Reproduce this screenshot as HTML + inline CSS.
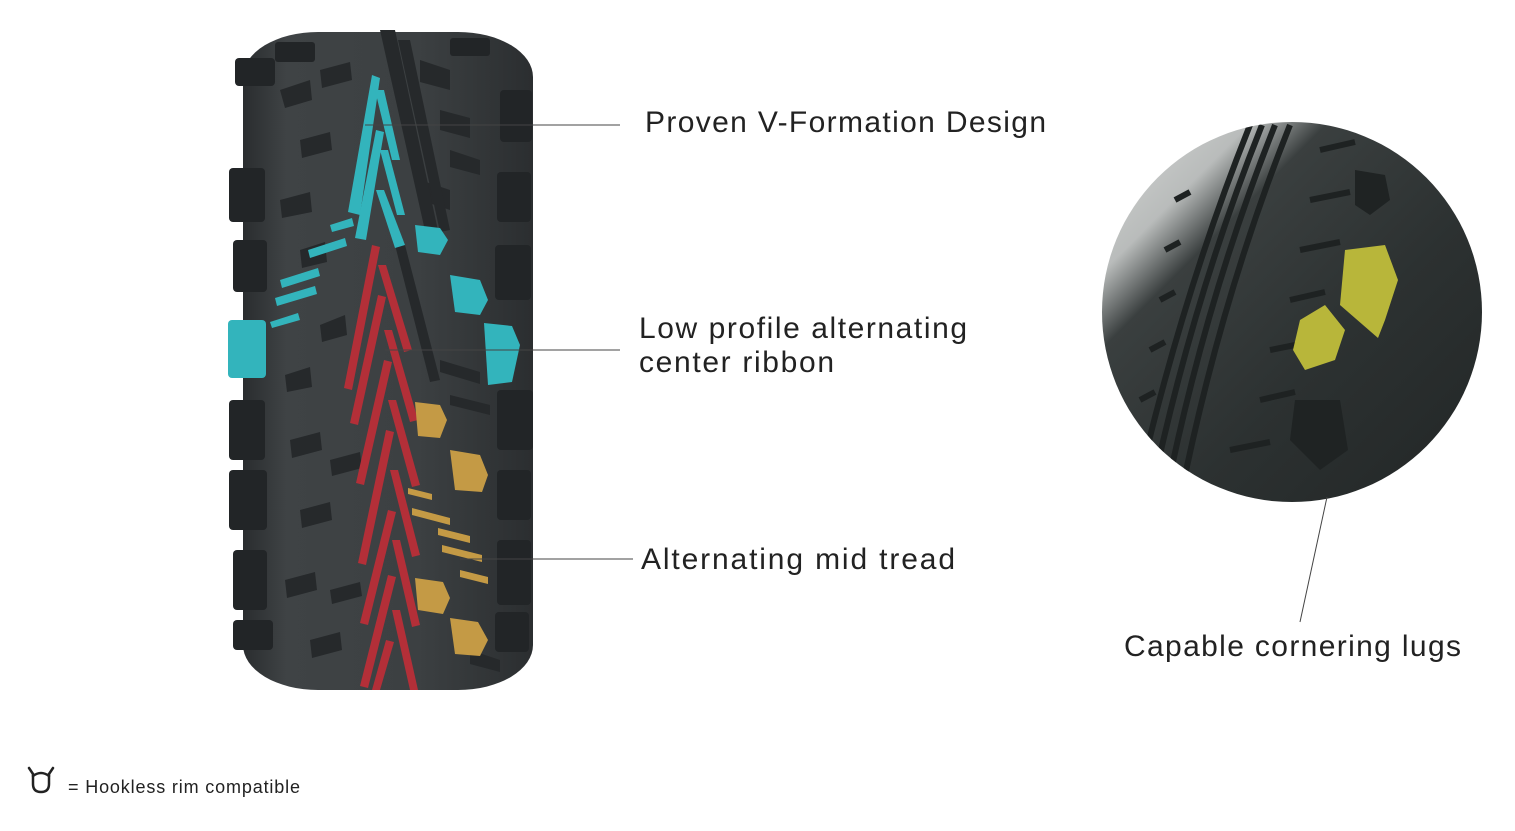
<!DOCTYPE html>
<html><head><meta charset="utf-8"><style>
html,body{margin:0;padding:0;background:#fff;}
svg{display:block}
text{font-family:"Liberation Sans",sans-serif;fill:#222}
</style></head><body>
<svg width="1515" height="831" viewBox="0 0 1515 831" xmlns="http://www.w3.org/2000/svg">
<defs>
<linearGradient id="tg" x1="0" x2="1" y1="0" y2="0">
<stop offset="0" stop-color="#2a2d2f"/><stop offset="0.15" stop-color="#3f4345"/><stop offset="0.6" stop-color="#3c4042"/><stop offset="1" stop-color="#2b2e30"/>
</linearGradient>
<linearGradient id="cg" x1="0" x2="1" y1="0" y2="1">
<stop offset="0" stop-color="#d8d9d8"/><stop offset="0.2" stop-color="#b9bcbb"/><stop offset="0.3" stop-color="#3a3f3f"/><stop offset="0.6" stop-color="#2c3131"/><stop offset="1" stop-color="#222626"/>
</linearGradient>
<clipPath id="cc"><circle cx="1292" cy="312" r="190"/></clipPath>
</defs>

<rect x="243" y="32" width="290" height="658" rx="75" ry="45" fill="url(#tg)"/>
<g fill="#222527">
<rect x="235" y="58" width="40" height="28" rx="4"/>
<rect x="229" y="168" width="36" height="54" rx="4"/>
<rect x="233" y="240" width="34" height="52" rx="4"/>
<rect x="229" y="400" width="36" height="60" rx="4"/>
<rect x="229" y="470" width="38" height="60" rx="4"/>
<rect x="233" y="550" width="34" height="60" rx="4"/>
<rect x="233" y="620" width="40" height="30" rx="4"/>
<rect x="500" y="90" width="32" height="52" rx="4"/>
<rect x="497" y="172" width="34" height="50" rx="4"/>
<rect x="495" y="245" width="36" height="55" rx="4"/>
<rect x="497" y="390" width="36" height="60" rx="4"/>
<rect x="497" y="470" width="34" height="50" rx="4"/>
<rect x="497" y="540" width="34" height="65" rx="4"/>
<rect x="495" y="612" width="34" height="40" rx="4"/>
<rect x="275" y="42" width="40" height="20" rx="3"/>
<rect x="450" y="38" width="40" height="18" rx="3"/>
</g>
<g fill="#26292b">
<polygon points="280,90 310,80 312,100 285,108"/>
<polygon points="320,70 350,62 352,80 322,88"/>
<polygon points="300,140 330,132 332,150 302,158"/>
<polygon points="280,200 310,192 312,212 282,218"/>
<polygon points="300,250 325,242 327,262 302,268"/>
<polygon points="320,325 345,315 347,335 322,342"/>
<polygon points="285,375 310,367 312,387 287,392"/>
<polygon points="290,440 320,432 322,450 292,458"/>
<polygon points="330,460 360,452 362,468 332,476"/>
<polygon points="300,510 330,502 332,520 302,528"/>
<polygon points="285,580 315,572 317,590 287,598"/>
<polygon points="330,590 360,582 362,596 332,604"/>
<polygon points="310,640 340,632 342,650 312,658"/>
<polygon points="420,60 450,70 450,90 420,82"/>
<polygon points="440,110 470,118 470,138 440,130"/>
<polygon points="420,180 450,190 450,210 420,200"/>
<polygon points="450,150 480,160 480,175 450,167"/>
<polygon points="440,360 480,372 480,384 440,372"/>
<polygon points="450,395 490,405 490,415 450,405"/>
<polygon points="470,650 500,660 500,672 470,664"/>
<polygon points="380,30 395,30 440,240 428,244"/>
<polygon points="398,40 410,40 450,230 440,232"/>
<polygon points="395,245 405,245 440,380 430,382"/>
</g>
<g fill="#33b4bc">
<polygon points="372,75 380,78 360,215 348,212"/>
<polygon points="375,90 384,90 400,160 392,160"/>
<polygon points="376,130 384,132 366,240 355,238"/>
<polygon points="380,150 388,150 405,215 397,215"/>
<polygon points="376,190 384,190 405,245 395,248"/>
<polygon points="330,225 352,218 354,226 332,232"/>
<polygon points="308,250 345,238 347,246 310,258"/>
<polygon points="280,280 318,268 320,276 282,288"/>
<polygon points="275,298 315,286 317,294 277,306"/>
<polygon points="270,322 298,313 300,320 272,328"/>
<polygon points="415,225 440,228 448,240 440,255 418,252"/>
<polygon points="450,275 480,280 488,300 480,315 455,312"/>
<polygon points="484,323 512,326 520,345 512,382 488,385"/>
<rect x="228" y="320" width="38" height="58" rx="4"/>
</g>
<g fill="#b32f38">
<polygon points="372,245 380,247 352,390 344,388"/>
<polygon points="378,265 386,265 412,350 404,352"/>
<polygon points="378,295 386,297 358,425 350,423"/>
<polygon points="384,330 392,330 418,420 410,422"/>
<polygon points="384,360 392,362 364,485 356,483"/>
<polygon points="388,400 396,400 420,485 412,487"/>
<polygon points="386,430 394,432 366,565 358,563"/>
<polygon points="390,470 398,470 420,555 412,557"/>
<polygon points="388,510 396,512 368,625 360,623"/>
<polygon points="392,540 400,540 420,625 412,627"/>
<polygon points="388,575 396,577 368,688 360,686"/>
<polygon points="392,610 400,610 418,690 410,690"/>
<polygon points="386,640 394,642 380,690 372,690"/>
</g>
<g fill="#c49a45">
<polygon points="415,402 440,405 447,420 440,438 418,436"/>
<polygon points="450,450 480,455 488,475 482,492 455,490"/>
<polygon points="408,488 432,494 432,500 408,494"/>
<polygon points="412,508 450,518 450,525 412,515"/>
<polygon points="438,528 470,536 470,543 438,535"/>
<polygon points="442,545 482,555 482,562 442,552"/>
<polygon points="460,570 488,577 488,584 460,577"/>
<polygon points="415,578 443,582 450,598 443,614 418,610"/>
<polygon points="450,618 478,622 488,640 480,656 455,654"/>
</g>

<g clip-path="url(#cc)">
<rect x="1100" y="120" width="385" height="385" fill="url(#cg)"/>
<g stroke="#1e2222" stroke-width="6" fill="none">
<path d="M1250,125 Q1180,300 1135,500"/>
<path d="M1262,125 Q1192,300 1150,500"/>
<path d="M1275,125 Q1205,300 1165,500"/>
<path d="M1290,125 Q1220,300 1180,500"/>
<path d="M1175,200 l15,-8 M1165,250 l15,-8 M1160,300 l15,-8 M1150,350 l15,-8 M1140,400 l15,-8"/>
<path d="M1320,150 l35,-8 M1310,200 l40,-8 M1300,250 l40,-8 M1290,300 l35,-8 M1270,350 l40,-8 M1260,400 l35,-8 M1230,450 l40,-8"/>
</g>
<g fill="#1f2323">
<polygon points="1355,170 1385,175 1390,200 1370,215 1355,205"/>
<polygon points="1295,400 1340,400 1348,450 1320,470 1290,440"/>
</g>
<polygon points="1345,250 1385,245 1398,280 1385,320 1378,338 1340,305" fill="#b8b63a"/>
<polygon points="1300,320 1325,305 1345,330 1335,360 1305,370 1293,350" fill="#b8b63a"/>
</g>

<g stroke="#444" stroke-width="1">
<line x1="365" y1="125" x2="620" y2="125"/>
<line x1="385" y1="350" x2="620" y2="350"/>
<line x1="460" y1="559" x2="633" y2="559"/>
<line x1="1327" y1="497" x2="1300" y2="622"/>
</g>

<text x="645" y="132" font-size="30" textLength="401">Proven V-Formation Design</text>
<text x="639" y="338" font-size="30" textLength="328">Low profile alternating</text>
<text x="639" y="372" font-size="30" textLength="195">center ribbon</text>
<text x="641" y="569" font-size="30" textLength="314">Alternating mid tread</text>
<text x="1124" y="656" font-size="30" textLength="337">Capable cornering lugs</text>

<g stroke="#222" stroke-width="2.5" fill="none" stroke-linecap="round">
<path d="M29,768 l4,6 M53,768 l-4,6"/>
<path d="M33,774 L33,784 Q33,792 41,792 Q49,792 49,784 L49,774"/>
<path d="M33,776 Q41,770 49,776"/>
</g>
<text x="68" y="793" font-size="18" textLength="232">= Hookless rim compatible</text>
</svg>
</body></html>
